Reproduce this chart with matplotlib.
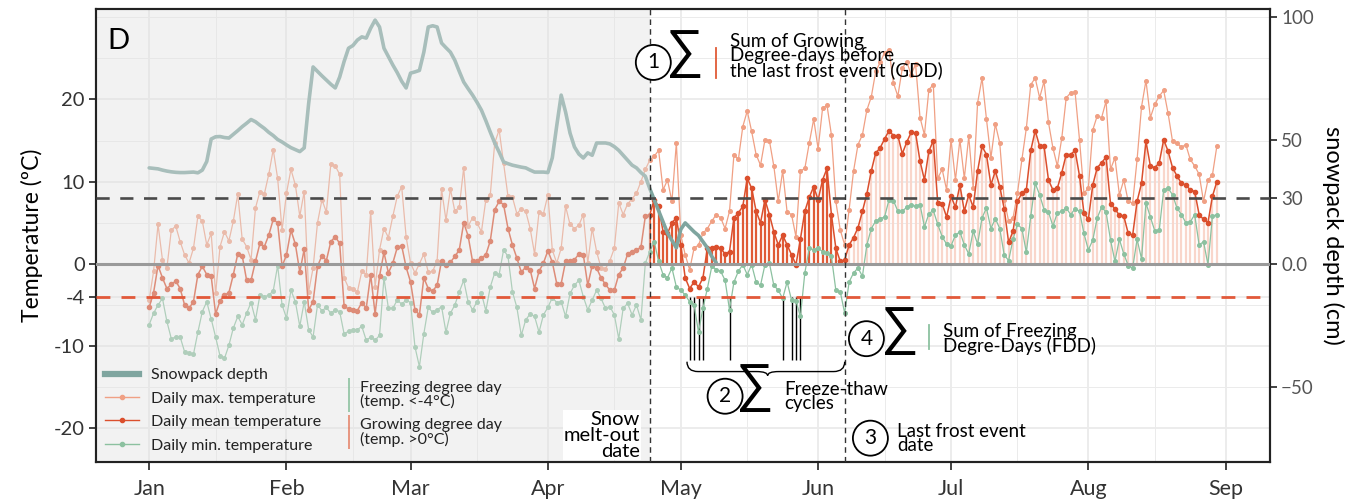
import numpy as np
import pandas as pd
import matplotlib
matplotlib.use('Agg')
import matplotlib.pyplot as plt
import matplotlib.dates as mdates
from matplotlib.lines import Line2D
from matplotlib.path import Path
from matplotlib.patches import PathPatch
from matplotlib.ticker import MultipleLocator

plt.rcParams['font.family'] = ['Lato', 'DejaVu Sans']

# ---------------- data ----------------
start_date = '2019-01-01'
melt_out_date = '2019-04-24'
last_frost_date = '2019-06-07'

tmax = [-4.4, -0.9, 4.8, 0.5, -0.5, 4.1, 4.6, 2.7, 1.1, 0.1,
        1.9, 5.8, 5.2, 2.3, 3.7, -3.6, 2.1, 3.9, 2.8, 5.2,
        8.5, 3.0, 2.1, 0.5, 6.8, 8.8, 8.5, 10.9, 13.9, 10.4,
        4.1, 8.6, 11.5, 9.6, 5.8, 8.8, -3.4, -0.5, 5.0, 7.8,
        6.3, 12.1, 11.9, 10.9, -1.7, -2.9, -3.0, -3.4, -0.9, -1.3,
        6.3, -2.8, 1.7, 4.3, 3.2, 5.8, 8.2, 9.4, 3.3, 0.1,
        -1.1, 0.0, 1.2, -1.0, -0.9, 0.4, 9.1, 5.3, 9.1, 6.4,
        6.9, 11.7, 4.6, 5.6, 5.0, 3.9, 7.8, 8.4, 14.7, 16.3,
        12.3, 8.2, 8.1, 6.1, 6.7, 6.4, 4.3, 1.2, 6.3, 6.1,
        8.4, 1.7, 0.1, 1.9, 7.0, 4.8, 4.3, 4.7, 6.0, 0.1,
        4.3, 1.5, -0.5, -0.6, 0.4, 1.9, 7.4, 6.0, 7.3, 7.9,
        8.6, 10.0, 11.5, 12.6, 13.1, 13.8, 9.0, 10.2, 7.6, 14.7,
        3.5, 1.1, -0.7, 1.9, 2.3, 3.7, 4.3, 5.2, 6.0, 5.6,
        4.3, 6.4, 13.3, 12.7, 16.7, 18.6, 16.1, 13.3, 12.0, 15.1,
        15.0, 11.9, 7.6, 11.3, 6.3, 6.0, 3.3, 11.3, 11.6, 14.7,
        17.6, 14.0, 18.9, 19.3, 15.7, 7.6, 4.1, 2.3, 6.6, 11.3,
        14.5, 15.7, 18.7, 20.3, 23.4, 24.5, 25.7, 26.0, 22.0, 20.4,
        23.8, 24.6, 23.0, 24.3, 17.8, 15.7, 21.2, 21.8, 10.4, 11.5,
        9.0, 15.1, 10.2, 15.1, 10.4, 15.5, 9.2, 19.6, 22.6, 17.6,
        12.9, 17.0, 14.7, 7.8, 5.2, 5.6, 8.6, 12.7, 16.5, 21.8,
        22.6, 20.2, 22.2, 17.2, 14.1, 11.9, 15.3, 20.2, 20.8, 20.9,
        15.1, 8.6, 9.2, 16.3, 18.0, 17.8, 19.8, 11.5, 12.9, 8.4,
        10.2, 7.6, 7.4, 12.7, 19.1, 22.3, 17.8, 19.4, 20.4, 21.1,
        18.3, 14.9, 14.7, 14.2, 14.5, 12.7, 11.9, 10.9, 7.6, 10.2,
        10.8, 14.3]

tmean = [-5.3, -3.5, -0.2, -1.7, -3.0, -2.5, -2.1, -3.0, -5.0, -5.4,
         -4.6, -1.3, -0.3, -1.3, -1.5, -6.1, -4.5, -3.8, -3.5, -1.3,
         1.2, 1.0, -2.0, -2.0, 0.3, 2.5, 2.1, 3.5, 5.4, 5.0,
         -0.3, 1.1, 4.1, 2.4, -1.0, 1.8, -5.6, -4.6, -0.3, 1.0,
         0.4, 2.7, 3.3, 2.5, -5.1, -5.5, -5.6, -5.7, -4.7, -5.4,
         -1.3, -6.1, -1.5, 1.4, -1.1, 0.1, 2.0, 2.2, -0.4, -2.2,
         -5.6, -6.2, -1.7, -3.0, -3.3, -2.6, 0.4, -0.1, 0.2, 0.9,
         1.7, 5.0, 3.4, 0.3, 0.4, 0.7, 1.1, 2.8, 6.6, 7.6,
         7.2, 4.3, 2.3, 0.7, -1.0, -0.4, -0.7, -3.0, -0.9, 0.1,
         1.6, 0.2, -2.4, -2.4, 0.3, 0.3, 0.5, 1.2, 1.1, -2.6,
         -0.2, -0.5, -1.7, -2.5, -3.2, -3.2, -1.3, -0.5, 1.2, 1.5,
         1.7, 2.0, 5.8, 6.0, 7.8, 7.0, 3.9, 3.7, 5.0, 5.6,
         2.3, -1.7, -3.0, -2.2, -2.8, -1.7, 1.9, 1.9, 2.1, 1.9,
         1.2, 1.5, 5.6, 6.2, 7.0, 10.4, 9.2, 6.4, 5.0, 7.8,
         6.0, 3.9, 2.3, 3.5, 2.3, 1.1, -0.1, 3.0, 6.4, 8.1,
         9.4, 7.8, 10.2, 11.6, 6.0, 1.9, 0.3, 0.5, 2.3, 3.2,
         4.4, 6.4, 8.5, 11.3, 13.5, 14.1, 15.2, 16.2, 15.6, 15.6,
         13.4, 14.8, 16.0, 15.9, 12.5, 10.2, 13.7, 15.0, 7.4, 7.3,
         5.7, 8.2, 6.9, 9.6, 6.4, 8.4, 6.9, 11.3, 14.3, 13.3,
         9.6, 11.3, 9.4, 6.7, 2.6, 4.0, 7.6, 8.6, 9.0, 13.8,
         16.2, 14.3, 14.3, 10.2, 9.0, 9.2, 11.1, 13.3, 13.3, 13.8,
         10.7, 6.2, 5.4, 9.6, 11.7, 12.3, 13.0, 7.3, 6.7, 5.9,
         5.8, 3.7, 3.5, 7.6, 9.8, 14.9, 11.9, 11.7, 12.3, 15.1,
         13.7, 11.7, 10.7, 9.8, 9.6, 9.0, 8.8, 6.0, 5.4, 5.0,
         8.2, 10.0]

tmin = [-7.4, -6.0, -5.0, -4.2, -7.0, -9.1, -8.9, -8.9, -10.7, -10.9,
        -11.0, -8.3, -5.8, -4.6, -6.7, -8.9, -11.2, -11.5, -9.9, -7.8,
        -6.4, -7.4, -6.0, -4.7, -6.8, -3.8, -4.0, -3.8, -3.3, -0.2,
        -5.0, -6.6, -3.2, -4.6, -7.6, -4.6, -8.0, -8.9, -5.0, -5.7,
        -5.3, -6.0, -5.6, -5.8, -8.5, -8.2, -8.0, -8.0, -7.6, -9.3,
        -8.9, -9.3, -8.7, -1.7, -5.4, -5.4, -4.4, -4.9, -4.4, -4.7,
        -10.1, -12.5, -8.5, -5.3, -5.9, -5.6, -5.2, -8.3, -6.0, -5.0,
        -3.4, -2.0, -4.6, -5.6, -4.6, -3.6, -5.7, -2.8, -1.1, -1.3,
        1.7, 0.9, -3.4, -5.3, -8.7, -6.8, -6.1, -6.4, -8.3, -6.2,
        -5.3, -4.1, -4.7, -4.6, -6.4, -3.6, -2.6, -2.0, -4.0, -5.6,
        -4.4, -3.2, -4.2, -5.4, -5.2, -6.2, -9.1, -5.4, -4.8, -6.2,
        -5.0, -6.8, 0.1, 1.5, 2.7, 0.3, -1.3, -1.7, -0.5, -2.8,
        -3.2, -3.8, -4.6, -5.0, -8.3, -5.4, -3.0, -0.3, -0.7, -0.9,
        -2.0, -5.6, -2.2, -0.9, -0.1, -1.3, -0.1, -2.2, -2.6, -0.1,
        0.1, -2.6, -3.2, -4.2, -2.2, -4.4, -4.5, -6.4, -1.1, 1.9,
        1.7, 1.9, 1.5, 1.3, 0.9, -3.2, -3.4, -6.0, -2.2, -1.1,
        -0.5, -1.5, 2.3, 4.3, 5.2, 5.5, 5.7, 7.8, 7.7, 6.4,
        6.4, 6.9, 7.2, 7.0, 7.2, 4.5, 6.1, 6.5, 4.8, 3.3,
        2.4, 2.2, 3.5, 3.9, 2.3, 1.2, 4.0, 2.4, 5.6, 6.8,
        4.3, 5.5, 4.3, 1.1, 0.4, 3.0, 4.8, 4.3, 1.4, 5.8,
        9.8, 8.4, 6.6, 6.3, 4.6, 6.2, 6.4, 6.8, 6.0, 6.7,
        6.4, 3.7, 1.7, 2.9, 5.6, 6.9, 6.3, 2.9, 0.3, 3.0,
        1.2, -0.2, -0.5, 3.0, 0.6, 7.4, 5.7, 4.0, 4.1, 9.0,
        9.2, 8.4, 6.8, 6.0, 5.0, 5.1, 6.0, 2.3, 2.7, -0.1,
        5.8, 6.0]

snow_depth = [38.9, 38.7, 38.5, 38.0, 37.6, 37.3, 37.1, 37.0, 37.0, 37.1,
              37.2, 36.9, 38.0, 41.5, 50.6, 51.5, 51.6, 51.2, 51.0, 52.5,
              54.0, 55.6, 57.0, 58.5, 57.6, 56.2, 54.9, 53.3, 52.0, 50.4,
              49.4, 48.2, 47.1, 46.3, 45.5, 47.0, 65.0, 79.8, 78.0, 76.2,
              74.5, 72.8, 71.3, 75.7, 82.0, 87.4, 88.5, 90.7, 92.0, 91.5,
              95.5, 98.8, 96.0, 87.4, 84.0, 80.6, 77.5, 74.0, 71.3, 77.3,
              77.8, 78.4, 85.8, 96.0, 96.5, 96.0, 89.5, 87.6, 85.8, 82.5,
              78.0, 73.7, 71.0, 68.4, 65.5, 62.3, 58.0, 53.4, 49.0, 45.3,
              41.3, 40.6, 40.0, 39.6, 39.2, 38.9, 38.0, 37.2, 37.2, 37.2,
              37.0, 43.0, 56.0, 68.4, 61.5, 53.0, 47.4, 44.5, 42.9, 45.0,
              44.0, 49.0, 49.0, 49.0, 48.6, 47.5, 46.0, 44.0, 42.0, 40.0,
              38.9, 37.0, 35.5, 30.5, 26.0, 21.5, 17.0, 12.5, 9.5, 6.5,
              14.0, 16.6, 14.8, 13.0, 11.5, 9.0, 6.5, 3.0, 0.5]

temp_ticks = [20, 10, 0, -4, -10, -20]
temp_tick_labels = ['20', '10', '0', '-4', '-10', '-20']
snow_tick_labels = ['100', '50', '30', '0.0', '\u221250']
frost_threshold = -4
upper_threshold = 8
month_labels_fmt = '%b'

legend_labels_1 = ['Snowpack depth', 'Daily max. temperature',
                   'Daily mean temperature', 'Daily min. temperature']
legend_labels_2 = ['Freezing degree day\n(temp. <-4\u00b0C)',
                   'Growing degree day\n(temp. >0\u00b0C)']

# ---------------- styling ----------------
c_max = '#f0a084'
c_mean = '#db4f2d'
c_min = '#8cc1a0'
c_snow = '#7fa59f'
c_gdd = '#e05a36'
c_gdd_light = '#f9d6cb'
W, H = 1362, 499
L, R, T, B = 96, 1270, 9, 462
ann_fs = 13.5
ann_ls = 0.8

dates = pd.date_range(start_date, periods=len(tmax))
snow_dates = pd.date_range(start_date, periods=len(snow_depth))
melt = pd.Timestamp(melt_out_date)
frost = pd.Timestamp(last_frost_date)
tmax_a = np.array(tmax)
tmean_a = np.array(tmean)
tmin_a = np.array(tmin)

def day(d):
    return mdates.date2num(pd.Timestamp(start_date) + pd.Timedelta(days=d))

x_left = pd.Timestamp(start_date) - pd.Timedelta(days=12)
x_right = pd.Timestamp('2019-09-11')
ylim_t = (-24.1, 31.0)
cm_per_deg = 8.22 / 2.467

fig = plt.figure(figsize=(W / 100, H / 100), dpi=100)
ax = fig.add_axes([L / W, 1 - B / H, (R - L) / W, (B - T) / H])
ax.set_axisbelow(True)

# GDD bars
win = (dates >= melt) & (dates <= frost) & (tmean_a > 0)
post = (dates > frost) & (tmean_a > 0)
ax.vlines(dates[post], 0, tmean_a[post], color=c_gdd_light, lw=1.6, zorder=1.2)
ax.vlines(dates[win], 0, tmean_a[win], color=c_gdd, lw=1.6, zorder=1.5)

# freeze-thaw lines
fz = (dates > melt) & (dates < frost) & (tmin_a < frost_threshold)
ax.vlines(dates[fz], -11.7, frost_threshold, color='black', lw=1.0, zorder=1.6)

ax.plot(dates, tmax_a, color=c_max, lw=0.9, marker='o', ms=2.6, zorder=2.2)
ax.plot(dates, tmin_a, color=c_min, lw=0.9, marker='o', ms=2.6, zorder=2.3)
ax.plot(dates, tmean_a, color=c_mean, lw=1.1, marker='o', ms=3.0, zorder=2.4)

ax.set_xlim(x_left, x_right)
ax.set_ylim(*ylim_t)
ax.xaxis.set_major_locator(mdates.MonthLocator())
ax.xaxis.set_major_formatter(mdates.DateFormatter(month_labels_fmt))
ax.xaxis.set_minor_locator(mdates.MonthLocator(bymonthday=16))
ax.set_yticks(temp_ticks)
ax.set_yticklabels(temp_tick_labels)
ax.yaxis.set_minor_locator(MultipleLocator(5))
ax.grid(which='major', color='#ebebeb', lw=1.3)
ax.grid(which='minor', color='#ebebeb', lw=0.7)
ax.tick_params(which='minor', length=0)
ax.tick_params(axis='x', which='major', length=6, width=1.2, color='#222',
               labelsize=15.5, labelcolor='#333', pad=6)
ax.tick_params(axis='y', which='major', length=5, width=1.2, color='#222',
               labelsize=14.5, labelcolor='#333', pad=3)
for s in ax.spines.values():
    s.set_color('#222')
    s.set_linewidth(1.5)
ax.set_ylabel('Temperature (\u00baC)', fontsize=16.5, labelpad=8)

# ---------------- twin axis: snow ----------------
ax2 = ax.twinx()
ax2.set_autoscale_on(False)
ax2.set_ylim(ylim_t[0] * cm_per_deg, ylim_t[1] * cm_per_deg)
ax2.plot(snow_dates, snow_depth, color=c_snow, lw=2.6, zorder=1,
         solid_capstyle='round')
# faded overlay before melt-out
ax2.axvspan(x_left, melt, color='#e2e2e2', alpha=0.42, lw=0, zorder=2)

td = ax.transData
ax2.plot([x_left, x_right], [0, 0], transform=td, color='#9a9a9a', lw=2.2, zorder=3)
ax2.plot([x_left, x_right], [upper_threshold] * 2, transform=td, color='#4a4a4a',
         lw=1.9, dashes=(5, 4), zorder=3)
ax2.plot([x_left, x_right], [frost_threshold] * 2, transform=td, color='#e2593a',
         lw=2.0, dashes=(5, 4), zorder=3)
for d in (melt, frost):
    ax2.plot([d, d], ylim_t, transform=td, color='#333', lw=1.0,
             dashes=(4, 3), zorder=3)

ax2.set_yticks([100, 50, upper_threshold * cm_per_deg, 0, -50])
ax2.set_yticklabels(snow_tick_labels)
ax2.tick_params(axis='y', length=5, width=1.2, color='#222', labelsize=13.5,
                labelcolor='#555', pad=3)
for s in ax2.spines.values():
    s.set_color('#222')
    s.set_linewidth(1.5)
ax2.set_ylabel('snowpack depth (cm)', rotation=270, fontsize=17, labelpad=22)

# ---------------- legends ----------------
h1 = [Line2D([], [], color=c_snow, lw=4.5),
      Line2D([], [], color=c_max, lw=1, marker='o', ms=3),
      Line2D([], [], color=c_mean, lw=1, marker='o', ms=3),
      Line2D([], [], color=c_min, lw=1, marker='o', ms=3)]
leg1 = ax2.legend(h1, legend_labels_1, loc='upper left',
                  bbox_to_anchor=(105 / W, 1 - 368 / H), bbox_transform=fig.transFigure,
                  frameon=False, fontsize=11.5, handlelength=2.1, handletextpad=0.75,
                  labelspacing=0.58, borderpad=0, borderaxespad=0)
for t in leg1.get_texts():
    t.set_color('#222')
leg1.set_zorder(6)
ax2.add_artist(leg1)
h2 = [Line2D([], [], color=c_min, marker='|', ms=24, mew=1.2, ls='none'),
      Line2D([], [], color=c_gdd, marker='|', ms=24, mew=1.2, ls='none', alpha=0.7)]
leg2 = ax2.legend(h2, legend_labels_2, loc='upper left',
                  bbox_to_anchor=(344 / W, 1 - 381 / H), bbox_transform=fig.transFigure,
                  frameon=False, fontsize=11.5, handlelength=0.6, handletextpad=0.4,
                  labelspacing=0.55, borderpad=0, borderaxespad=0)
for t in leg2.get_texts():
    t.set_color('#222')
    t.set_linespacing(0.95)
leg2.set_zorder(6)

# ---------------- annotations ----------------
circ = dict(boxstyle='circle,pad=0.36', fc='white', ec='black', lw=1.3)
sig_font = ['Liberation Sans', 'DejaVu Sans']

def label_num(x, y, s):
    ax2.text(day(x), y, s, transform=td, ha='center', va='center', fontsize=15,
             bbox=circ, zorder=7)

def sigma(x, y):
    ax2.text(day(x), y, '\u2211', transform=td, ha='center', va='center',
             fontsize=38, family=sig_font, zorder=7)

label_num(113.8, 24.5, '1')
sigma(120.9, 25.6)
ax2.plot([day(128), day(128)], [22.6, 26.2], transform=td, color=c_gdd, lw=1.3, zorder=7)
ax2.text(day(131), 28.1, 'Sum of Growing\nDegree-days before\nthe last frost event (GDD)',
         transform=td, ha='left', va='top', fontsize=ann_fs, linespacing=ann_ls, zorder=7)

label_num(161.9, -9.1, '4')
sigma(169.5, -8.0)
ax2.plot([day(176), day(176)], [-7.4, -10.3], transform=td, color=c_min, lw=1.3, zorder=7)
ax2.text(day(179.2), -9.1, 'Sum of Freezing\nDegre-Days (FDD)', transform=td,
         ha='left', va='center', fontsize=ann_fs, linespacing=ann_ls, zorder=7)

label_num(130, -16.1, '2')
sigma(136.8, -15.0)
ax2.text(day(143.3), -16.1, 'Freeze-thaw\ncycles', transform=td, ha='left',
         va='center', fontsize=ann_fs, linespacing=ann_ls, zorder=7)

label_num(162.8, -21.2, '3')
ax2.text(day(168.8), -21.2, 'Last frost event\ndate', transform=td, ha='left',
         va='center', fontsize=ann_fs, linespacing=ann_ls, zorder=7)

ax2.text(day(110.8), -17.9, 'Snow\nmelt-out\ndate', transform=td, ha='right',
         va='top', fontsize=14.5, linespacing=0.92, zorder=7,
         bbox=dict(fc='white', ec='none', pad=0.5))

# brace under freeze-thaw cycles
x0, x1, xm = day(121.4), day(157.0), day(139.6)
yt, ym, yb = -11.9, -13.1, -13.6
e = 2.5
verts = [(x0, yt), (x0, ym), (x0 + e, ym), (xm - e, ym), (xm, ym), (xm, yb),
         (xm, ym), (xm + e, ym), (x1 - e, ym), (x1, ym), (x1, yt)]
codes = [Path.MOVETO, Path.CURVE3, Path.CURVE3, Path.LINETO, Path.CURVE3, Path.CURVE3,
         Path.CURVE3, Path.CURVE3, Path.LINETO, Path.CURVE3, Path.CURVE3]
ax2.add_patch(PathPatch(Path(verts, codes), transform=td, fc='none', ec='black',
                        lw=1.0, zorder=7))

ax2.text(0.010, 0.93, 'D', transform=ax.transAxes, fontsize=21, va='center',
         ha='left', zorder=8)

fig.savefig('out.png', dpi=100)
